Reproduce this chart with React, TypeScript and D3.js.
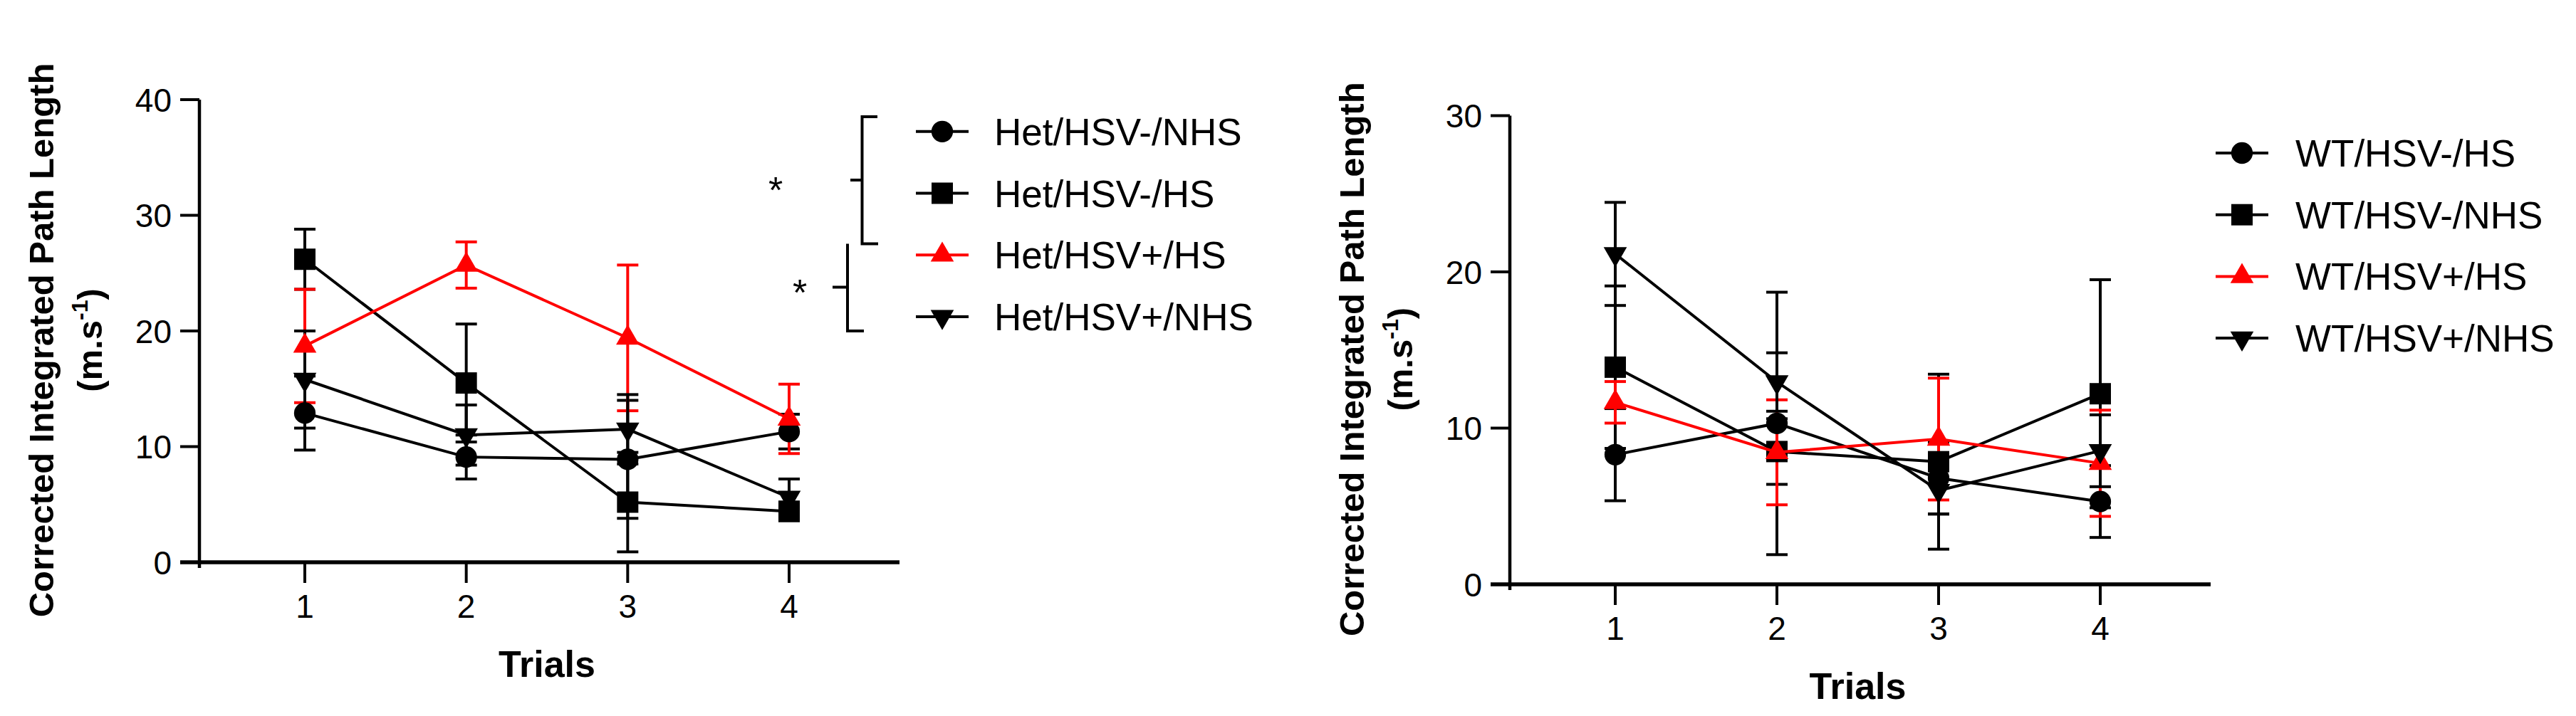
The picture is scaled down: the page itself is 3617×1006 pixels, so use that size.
import React from 'react';
import * as d3 from 'd3';

// trial numbers on the x axis
const trials = [1, 2, 3, 4];

// Het animals: mean and SEM per trial
const hetNames = ['Het/HSV-/NHS', 'Het/HSV-/HS', 'Het/HSV+/HS', 'Het/HSV+/NHS'];
const hetNegNhsMean = [12.9, 9.1, 8.9, 11.3];
const hetNegNhsSem = [3.2, 1.9, 5.1, 1.5];
const hetNegHsMean = [26.2, 15.5, 5.2, 4.4];
const hetNegHsSem = [2.6, 5.1, 4.3, 0.8];
const hetPosHsMean = [18.7, 25.7, 19.4, 12.4];
const hetPosHsSem = [4.9, 2.0, 6.3, 3.0];
const hetPosNhsMean = [15.8, 11.0, 11.5, 5.6];
const hetPosNhsSem = [4.2, 2.6, 3.0, 1.6];
const hetTicks = [0, 10, 20, 30, 40];

// WT animals: mean and SEM per trial
const wtNames = ['WT/HSV-/HS', 'WT/HSV-/NHS', 'WT/HSV+/HS', 'WT/HSV+/NHS'];
const wtNegHsMean = [8.3, 10.3, 6.8, 5.3];
const wtNegHsSem = [2.95, 8.4, 2.3, 2.3];
const wtNegNhsMean = [13.9, 8.5, 7.85, 12.2];
const wtNegNhsSem = [5.2, 2.1, 5.6, 7.3];
const wtPosHsMean = [11.65, 8.45, 9.3, 7.75];
const wtPosHsSem = [1.33, 3.36, 3.9, 3.4];
const wtPosNhsMean = [21.15, 12.95, 6.0, 8.55];
const wtPosNhsSem = [3.3, 1.87, 1.5, 2.3];
const wtTicks = [0, 10, 20, 30];

const yTitle = 'Corrected Integrated Path Length';
const xTitle = 'Trials';

const FONT = '"Liberation Sans", Arial, Helvetica, sans-serif';
const RED = '#ff0000';

// marker shape and colour, in legend order
const markerKinds = ['circle', 'square', 'up', 'down'];
const markerColors = ['#000', '#000', RED, '#000'];

function markerPath(kind: string) {
  if (kind === 'circle') return d3.symbol(d3.symbolCircle, 720)() as string;
  if (kind === 'square') return d3.symbol(d3.symbolSquare, 900)() as string;
  return d3.symbol(d3.symbolTriangle, 460)() as string;
}

function Marker({ kind, color, cx, cy }: any) {
  const rot = kind === 'down' ? ' rotate(180)' : '';
  return (
    <path d={markerPath(kind)} fill={color} transform={`translate(${cx},${cy})${rot}`} />
  );
}

interface Geo {
  axisX: number;
  x1: number;
  x4: number;
  y0: number;
  yTop: number;
  legendY: number;
  legendLineX: number;
  legendTextX: number;
}

function Panel({ names, means, sems, ticks, g }: any) {
  const geo: Geo = g;
  const x = d3.scaleLinear().domain([1, 4]).range([geo.x1, geo.x4]);
  const y = d3
    .scaleLinear()
    .domain([0, ticks[ticks.length - 1]])
    .range([geo.y0, geo.yTop]);
  const line = d3
    .line<number>()
    .x((_, i) => x(trials[i]))
    .y((d) => y(d));

  const capW = 15;
  const midY = (geo.y0 + geo.yTop) / 2 + 13;

  return (
    <g fontFamily={FONT}>
      {/* error bars */}
      {means.map((m: number[], s: number) => (
        <g key={`e${s}`} stroke={markerColors[s]} strokeWidth={4}>
          {m.map((v, i) => {
            const cx = x(trials[i]);
            const hi = y(v + sems[s][i]);
            const lo = y(v - sems[s][i]);
            return (
              <g key={i}>
                <line x1={cx} x2={cx} y1={hi} y2={lo} />
                <line x1={cx - capW} x2={cx + capW} y1={hi} y2={hi} />
                <line x1={cx - capW} x2={cx + capW} y1={lo} y2={lo} />
              </g>
            );
          })}
        </g>
      ))}

      {/* series lines and markers */}
      {means.map((m: number[], s: number) => (
        <g key={`l${s}`}>
          <path d={line(m) as string} fill="none" stroke={markerColors[s]} strokeWidth={4} />
          {m.map((v, i) => (
            <Marker key={i} kind={markerKinds[s]} color={markerColors[s]} cx={x(trials[i])} cy={y(v)} />
          ))}
        </g>
      ))}

      {/* y axis */}
      <line x1={geo.axisX} x2={geo.axisX} y1={geo.yTop} y2={geo.y0 + 8} stroke="#000" strokeWidth={4.5} />
      {ticks.map((t: number) => (
        <g key={`y${t}`}>
          <line x1={geo.axisX - 27} x2={geo.axisX} y1={y(t)} y2={y(t)} stroke="#000" strokeWidth={4} />
          <text x={geo.axisX - 39} y={y(t) + 16.5} textAnchor="end" fontSize={46}>
            {t}
          </text>
        </g>
      ))}

      {/* x axis */}
      <line x1={geo.axisX - 27} x2={geo.x4 + 155} y1={geo.y0} y2={geo.y0} stroke="#000" strokeWidth={5.5} />
      {trials.map((t) => (
        <g key={`x${t}`}>
          <line x1={x(t)} x2={x(t)} y1={geo.y0} y2={geo.y0 + 29} stroke="#000" strokeWidth={4} />
          <text x={x(t)} y={geo.y0 + 78} textAnchor="middle" fontSize={46}>
            {t}
          </text>
        </g>
      ))}

      {/* axis titles */}
      <text x={(geo.x1 + geo.x4) / 2} y={geo.y0 + 161} textAnchor="middle" fontSize={52} fontWeight="bold">
        {xTitle}
      </text>
      <text
        transform={`translate(${geo.axisX - 205},${midY}) rotate(-90)`}
        textAnchor="middle"
        fontSize={49}
        fontWeight="bold"
      >
        {yTitle}
      </text>
      <text
        transform={`translate(${geo.axisX - 137},${midY}) rotate(-90)`}
        textAnchor="middle"
        fontSize={49}
        fontWeight="bold"
      >
        (m.s
        <tspan fontSize={32} dy={-20}>
          -1
        </tspan>
        <tspan dy={20}>)</tspan>
      </text>

      {/* legend */}
      {names.map((n: string, s: number) => {
        const ry = geo.legendY + s * 86.7;
        return (
          <g key={`lg${s}`}>
            <line
              x1={geo.legendLineX}
              x2={geo.legendLineX + 74}
              y1={ry}
              y2={ry}
              stroke={markerColors[s]}
              strokeWidth={4}
            />
            <Marker kind={markerKinds[s]} color={markerColors[s]} cx={geo.legendLineX + 37} cy={ry} />
            <text x={geo.legendTextX} y={ry + 19} fontSize={53}>
              {n}
            </text>
          </g>
        );
      })}
    </g>
  );
}

const hetGeo: Geo = {
  axisX: 280,
  x1: 428,
  x4: 1108,
  y0: 790,
  yTop: 140,
  legendY: 184.8,
  legendLineX: 1286,
  legendTextX: 1396,
};

const wtGeo: Geo = {
  axisX: 2120,
  x1: 2268,
  x4: 2949,
  y0: 821,
  yTop: 162.5,
  legendY: 215,
  legendLineX: 3111,
  legendTextX: 3223,
};

// significance brackets beside the Het legend
function Brackets() {
  return (
    <g stroke="#000" strokeWidth={4} fill="none">
      <path d="M1232,164 H1210.5 V342.4 H1233" />
      <line x1={1194} x2={1210.5} y1={253} y2={253} />
      <path d="M1190,342.4 V465 H1213" />
      <line x1={1169} x2={1190} y1={403.5} y2={403.5} />
      <g stroke="none" fill="#000" fontFamily={FONT} fontSize={52} textAnchor="middle">
        <text x={1089} y={285}>*</text>
        <text x={1123} y={429}>*</text>
      </g>
    </g>
  );
}

export default function App() {
  return (
    <div style={{ position: 'absolute', left: 0, top: 0 }}>
      <svg width={3617} height={1006} style={{ display: 'block', background: '#fff' }}>
        <Panel
          names={hetNames}
          means={[hetNegNhsMean, hetNegHsMean, hetPosHsMean, hetPosNhsMean]}
          sems={[hetNegNhsSem, hetNegHsSem, hetPosHsSem, hetPosNhsSem]}
          ticks={hetTicks}
          g={hetGeo}
        />
        <Brackets />
        <Panel
          names={wtNames}
          means={[wtNegHsMean, wtNegNhsMean, wtPosHsMean, wtPosNhsMean]}
          sems={[wtNegHsSem, wtNegNhsSem, wtPosHsSem, wtPosNhsSem]}
          ticks={wtTicks}
          g={wtGeo}
        />
      </svg>
    </div>
  );
}
